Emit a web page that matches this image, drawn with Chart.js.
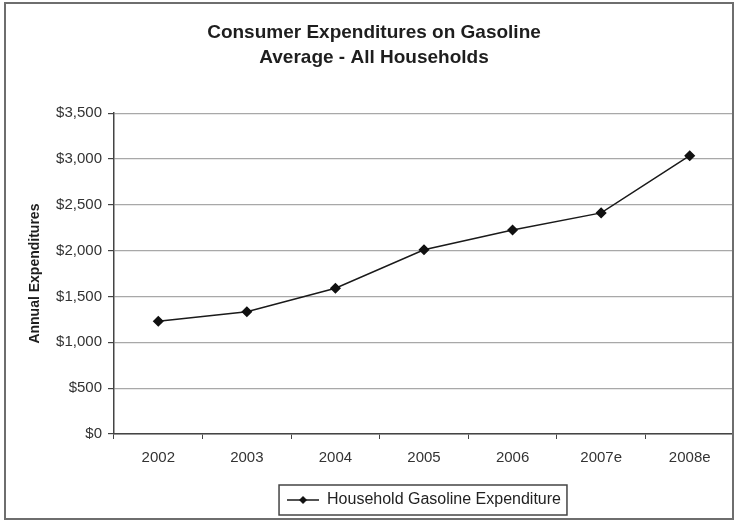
<!DOCTYPE html>
<html>
<head>
<meta charset="utf-8">
<title>Consumer Expenditures on Gasoline</title>
<script src="https://cdn.jsdelivr.net/npm/chart.js@4.4.1/dist/chart.umd.min.js"></script>
<style>
    html, body { margin: 0; padding: 0; background: #fff; }
    canvas { display: block; }
</style>
</head>
<body>
<canvas id="gas-chart" width="734" height="521"></canvas>
<script>
// Chart data
const years = ['2002', '2003', '2004', '2005', '2006', '2007e', '2008e'];
const spending = [1230, 1333, 1590, 2010, 2225, 2412, 3036];
const titleLines = ['Consumer Expenditures on Gasoline', 'Average - All Households'];
const seriesName = 'Household Gasoline Expenditure';

const FONT = '"Liberation Sans", Arial, sans-serif';

// Little line-with-diamond sample for the legend
function legendMarker() {
    const c = document.createElement('canvas');
    c.width = 32;
    c.height = 10;
    const g = c.getContext('2d');
    g.strokeStyle = '#1a1a1a';
    g.lineWidth = 1.5;
    g.beginPath();
    g.moveTo(0, 5);
    g.lineTo(32, 5);
    g.stroke();
    g.fillStyle = '#111';
    g.beginPath();
    g.moveTo(16, 1);
    g.lineTo(20, 5);
    g.lineTo(16, 9);
    g.lineTo(12, 5);
    g.closePath();
    g.fill();
    return c;
}

// Outer frame and the box around the legend
const framePlugin = {
    id: 'frame',
    afterDraw(chart) {
        const ctx = chart.ctx;
        ctx.save();
        ctx.strokeStyle = '#6e6e6e';
        ctx.lineWidth = 2;
        ctx.strokeRect(5, 3, 728, 516);

        const hit = chart.legend.legendHitBoxes[0];
        if (hit) {
            ctx.strokeStyle = '#444';
            ctx.lineWidth = 1.5;
            ctx.strokeRect(hit.left - 8, hit.top - 7, hit.width + 14, hit.height + 14);
        }
        ctx.restore();
    }
};

new Chart(document.getElementById('gas-chart'), {
    type: 'line',
    data: {
        labels: years,
        datasets: [{
            label: seriesName,
            data: spending,
            borderColor: '#1a1a1a',
            borderWidth: 1.5,
            pointStyle: 'rectRot',
            pointRadius: 4.5,
            pointBackgroundColor: '#111',
            pointBorderColor: '#111',
            tension: 0
        }]
    },
    options: {
        responsive: false,
        animation: false,
        layout: {
            autoPadding: false,
            padding: { left: 14, right: 0, top: 4, bottom: 3 }
        },
        plugins: {
            title: {
                display: true,
                text: titleLines,
                color: '#1e1e1e',
                font: { family: FONT, size: 19, weight: 'bold', lineHeight: 1.32 },
                padding: { top: 16, bottom: 43 }
            },
            legend: {
                position: 'bottom',
                fullSize: false,
                labels: {
                    usePointStyle: true,
                    pointStyle: legendMarker(),
                    pointStyleWidth: 32,
                    color: '#222',
                    font: { family: FONT, size: 16 },
                    padding: 12
                }
            },
            tooltip: { enabled: false }
        },
        scales: {
            x: {
                offset: true,
                grid: {
                    offset: true,
                    drawOnChartArea: false,
                    drawTicks: true,
                    tickLength: 5,
                    color: '#444'
                },
                border: { color: '#444', width: 1.5 },
                ticks: {
                    color: '#333',
                    font: { family: FONT, size: 15 },
                    padding: 10
                },
                afterFit(scale) {
                    scale.height = 46;
                    scale.paddingLeft = 0;
                    scale.paddingRight = 0;
                }
            },
            y: {
                min: 0,
                max: 3500,
                ticks: {
                    stepSize: 500,
                    color: '#333',
                    font: { family: FONT, size: 15 },
                    padding: 6,
                    callback: v => '$' + v.toLocaleString('en-US')
                },
                grid: {
                    color: '#a8a8a8',
                    lineWidth: 1.2,
                    tickLength: 6,
                    tickColor: '#444'
                },
                border: { color: '#444', width: 1.5 },
                title: {
                    display: true,
                    text: 'Annual Expenditures',
                    color: '#1e1e1e',
                    font: { family: FONT, size: 14, weight: 'bold' },
                    padding: { top: 13, bottom: 0 }
                },
                afterFit(scale) { scale.width = 100; }
            }
        }
    },
    plugins: [framePlugin]
});
</script>
</body>
</html>
